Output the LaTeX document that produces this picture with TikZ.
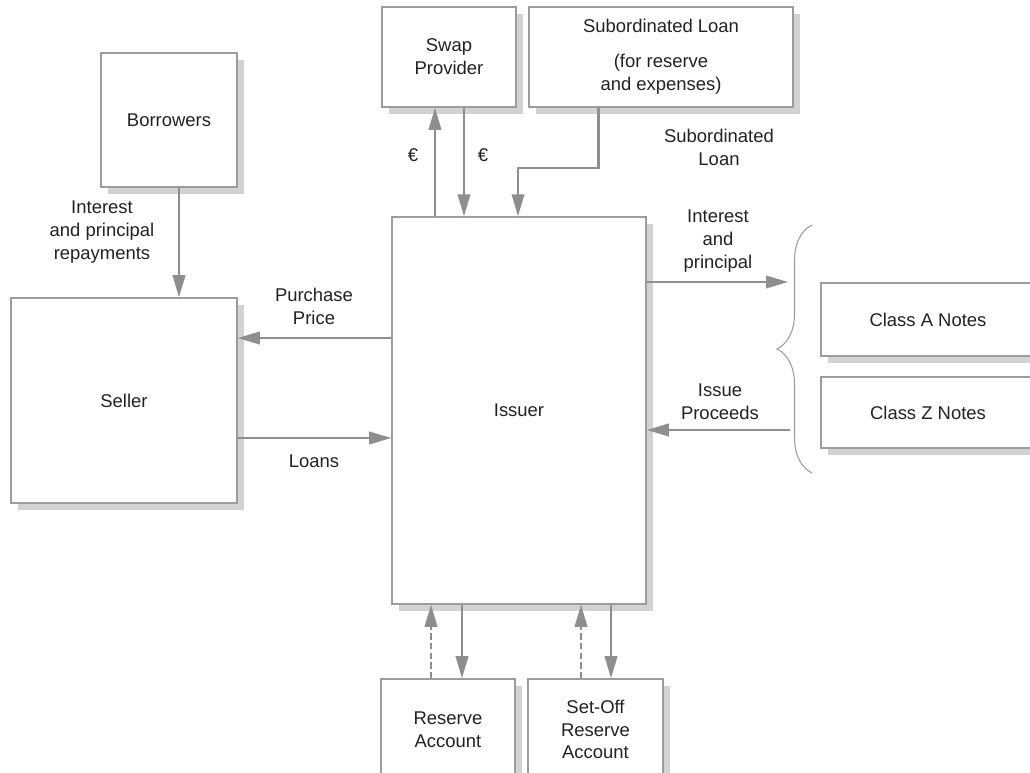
\documentclass[tikz,border=0pt]{standalone}
\usepackage{fontspec}
\setmainfont{Liberation Sans}
\usetikzlibrary{arrows.meta,shadows,decorations.pathreplacing}
\definecolor{linegray}{HTML}{8E8E8E}
\definecolor{boxgray}{HTML}{9C9C9C}
\definecolor{shadowgray}{HTML}{D2D2D2}
\definecolor{textgray}{HTML}{222222}

\begin{document}
\begin{tikzpicture}[x=0.02cm,y=-0.02cm,
	every node/.style={font=\fontsize{10.5}{13}\selectfont,text=textgray,align=center},
	party/.style={draw=boxgray,line width=0.9pt,fill=white,inner sep=0pt,drop shadow={shadow xshift=0.14cm,shadow yshift=-0.14cm,fill=shadowgray,opacity=1}},
	flow/.style={draw=linegray,line width=1.25pt,-{Triangle[length=0.44cm,width=0.25cm]}}]
			\clip (0,0) rectangle (1030,773);
			\fill[white] (0,0) rectangle (1030,773);
			\node[party,minimum width=2.72cm,minimum height=2.68cm] (borrowers) at (169,120) {Borrowers};
			\node[party,minimum width=4.52cm,minimum height=4.1cm] (seller) at (124,400.5) {Seller};
			\node[party,minimum width=5.08cm,minimum height=7.74cm] (issuer) at (519,410.5) {Issuer};
			\node[party,minimum width=2.68cm,minimum height=2cm] (swap) at (449,57) {Swap\\Provider};
			\node[party,minimum width=5.28cm,minimum height=2cm] (subloan) at (661,57) {Subordinated Loan\\[7pt](for reserve\\and expenses)};
			\node[party,minimum width=4.28cm,minimum height=1.46cm] (classA) at (928,319.5) {Class A Notes};
			\node[party,minimum width=4.28cm,minimum height=1.42cm] (classZ) at (928,412.5) {Class Z Notes};
			\node[party,minimum width=2.68cm,minimum height=2.02cm] (reserve) at (448,729.5) {Reserve\\Account};
			\node[party,minimum width=2.7cm,minimum height=2.02cm] (setoff) at (595.5,729.5) {Set-Off\\Reserve\\Account};
			\coordinate (bracetop) at (812,225);
			\coordinate (bracebot) at (812,473);
			\coordinate (notesin) at (788,282);
			\coordinate (notesout) at (790,430);
			\draw[boxgray,line width=0.6pt,decorate,decoration={brace,amplitude=0.7cm}] (bracebot) -- (bracetop);
			\draw[flow] ([xshift=0.2cm]borrowers.south) -- ([xshift=0.2cm]borrowers.south |- seller.north);
			\draw[flow] ([yshift=1.45cm]issuer.west) -- ([yshift=1.45cm]issuer.west -| seller.east);
			\draw[flow] ([yshift=-0.55cm]issuer.west -| seller.east) -- ([yshift=-0.55cm]issuer.west);
			\draw[flow] ([xshift=-0.28cm]swap.south |- issuer.north) -- ([xshift=-0.28cm]swap.south);
			\draw[flow] ([xshift=0.3cm]swap.south) -- ([xshift=0.3cm]swap.south |- issuer.north);
			\draw[flow] ([xshift=-1.25cm]subloan.south) -- ++(0,-1.2cm) -| ([xshift=-0.02cm]issuer.north);
			\draw[flow] (issuer.east |- notesin) -- (notesin);
			\draw[flow] (notesout) -- (issuer.east |- notesout);
			\draw[flow,dash pattern=on 3.5pt off 2pt] ([xshift=-0.34cm]reserve.north) -- ([xshift=-0.34cm]reserve.north |- issuer.south);
			\draw[flow] ([xshift=0.28cm]reserve.north |- issuer.south) -- ([xshift=0.28cm]reserve.north);
			\draw[flow,dash pattern=on 3.5pt off 2pt] ([xshift=-0.29cm]setoff.north) -- ([xshift=-0.29cm]setoff.north |- issuer.south);
			\draw[flow] ([xshift=0.31cm]setoff.north |- issuer.south) -- ([xshift=0.31cm]setoff.north);
			\node (lblrepay) at (102,232) {Interest\\and principal\\repayments};
			\node (lblprice) at (314,306) {Purchase\\Price};
			\node (lblloans) at (314,461) {Loans};
			\node (lbleuroout) at (413,155) {€};
			\node (lbleuroin) at (483,155) {€};
			\node (lblsub) at (719,147) {Subordinated\\Loan};
			\node (lblint) at (718,241) {Interest\\and\\principal};
			\node (lblissue) at (720,402) {Issue\\Proceeds};
			\end{tikzpicture}
\end{document}
